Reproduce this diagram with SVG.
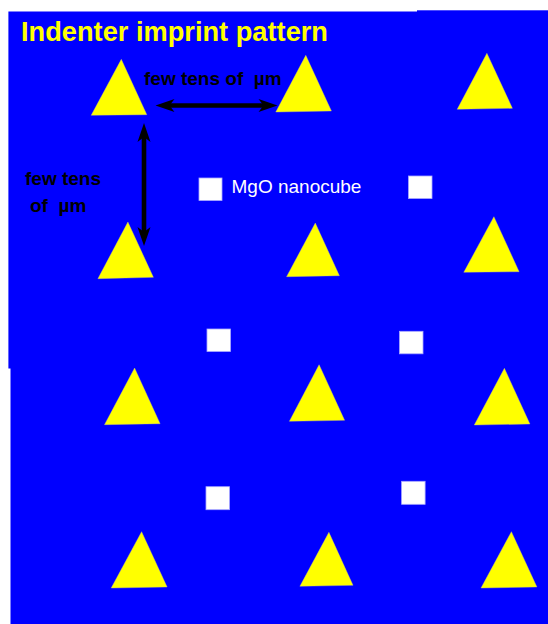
<svg xmlns="http://www.w3.org/2000/svg" width="548" height="624" viewBox="0 0 548 624">
  <style>
    .bg { fill: #0000FF; }
    .tri { fill: #FFFF00; stroke: #c8c880; stroke-width: 0.4; }
    .cube { fill: #FFFFFF; stroke: #a8a8ff; stroke-width: 0.8; }
    .title { font-family: "Liberation Sans", Arial, sans-serif; font-weight: bold; font-size: 27px; fill: #FFFF00; }
    .dim { font-family: "Liberation Sans", Arial, sans-serif; font-weight: bold; font-size: 19px; fill: #000000; }
    .lbl { font-family: "Liberation Sans", Arial, sans-serif; font-size: 19px; fill: #FFFFFF; }
    .arrow { stroke: #000000; stroke-width: 4.6; fill: none; }
  </style>
  <defs>
    <marker id="head" markerUnits="userSpaceOnUse" markerWidth="22" markerHeight="16" refX="0" refY="0" viewBox="-8 -8 22 16" orient="auto-start-reverse" overflow="visible">
      <path d="M12,0 L-7,-6.5 L-2,0 L-7,6.5 z" fill="#000000"/>
    </marker>
  </defs>

  <g id="background">
    <rect class="bg" x="8.4" y="11.5" width="540" height="357"/>
    <rect class="bg" x="417" y="10.3" width="131" height="10"/>
    <rect class="bg" x="10.5" y="362" width="538" height="262"/>
  </g>

  <g id="title">
    <text class="title" x="21" y="41" textLength="307" lengthAdjust="spacingAndGlyphs">Indenter imprint pattern</text>
  </g>

  <g id="imprints">
    <g id="imprint-r1c1"><polygon class="tri" points="121.3,59.3 91.2,115.3 146.8,114.7"/></g>
    <g id="imprint-r1c2"><polygon class="tri" points="305.8,55.3 275.8,112 331.4,111"/></g>
    <g id="imprint-r1c3"><polygon class="tri" points="486.9,53.3 457.2,109.3 512.4,108.3"/></g>
    <g id="imprint-r2c1"><polygon class="tri" points="127.9,222 97.9,278.7 153.4,277.3"/></g>
    <g id="imprint-r2c2"><polygon class="tri" points="315.3,223 286.6,276.7 339.4,275.7"/></g>
    <g id="imprint-r2c3"><polygon class="tri" points="493.9,216.7 463.8,272.3 519.1,271.7"/></g>
    <g id="imprint-r3c1"><polygon class="tri" points="134.6,368 104.5,424.7 160.1,423.7"/></g>
    <g id="imprint-r3c2"><polygon class="tri" points="319.1,364.7 289.4,421.3 344.6,420.3"/></g>
    <g id="imprint-r3c3"><polygon class="tri" points="504.4,368.3 474.3,425 529.9,424"/></g>
    <g id="imprint-r4c1"><polygon class="tri" points="141.6,531.7 111.2,588 167.1,587"/></g>
    <g id="imprint-r4c2"><polygon class="tri" points="328.9,532.3 299.9,586.3 353,585.3"/></g>
    <g id="imprint-r4c3"><polygon class="tri" points="511.4,531.7 481,588 536.9,587"/></g>
  </g>

  <g id="nanocubes">
    <g id="cube-1"><rect class="cube" x="199" y="178" width="23" height="22.5"/></g>
    <g id="cube-2"><rect class="cube" x="408.5" y="176" width="23.5" height="22.5"/></g>
    <g id="cube-3"><rect class="cube" x="207" y="329" width="23.5" height="22.5"/></g>
    <g id="cube-4"><rect class="cube" x="399.5" y="331.3" width="23.5" height="22.5"/></g>
    <g id="cube-5"><rect class="cube" x="206" y="486.7" width="23.5" height="23"/></g>
    <g id="cube-6"><rect class="cube" x="401.6" y="481.3" width="23.5" height="23"/></g>
  </g>

  <g id="labels">
    <text class="dim" x="144" y="84.5" xml:space="preserve">few tens of  µm</text>
    <text class="dim" x="25" y="185">few tens</text>
    <text class="dim" x="30" y="211.5" xml:space="preserve">of  µm</text>
    <text class="lbl" x="231.5" y="192.5">MgO nanocube</text>
  </g>

  <g id="connectors">
    <line class="arrow" x1="167.5" y1="105.5" x2="265.5" y2="105.5" marker-start="url(#head)" marker-end="url(#head)"/>
    <line class="arrow" x1="144" y1="135" x2="144" y2="234" marker-start="url(#head)" marker-end="url(#head)"/>
  </g>
</svg>
